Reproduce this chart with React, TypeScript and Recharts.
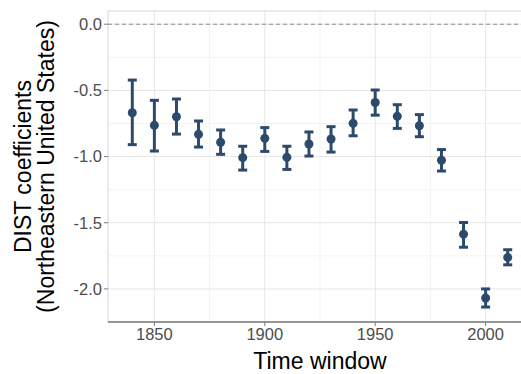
import {
  CartesianGrid,
  ErrorBar,
  Label,
  ReferenceArea,
  ReferenceLine,
  Scatter,
  ScatterChart,
  XAxis,
  YAxis,
} from "recharts";

const years = [1840, 1850, 1860, 1870, 1880, 1890, 1900, 1910, 1920, 1930, 1940, 1950, 1960, 1970, 1980, 1990, 2000, 2010];
const coef = [-0.669, -0.764, -0.699, -0.832, -0.892, -1.008, -0.862, -1.006, -0.905, -0.867, -0.749, -0.591, -0.696, -0.767, -1.028, -1.586, -2.069, -1.762];
const lower = [-0.91, -0.958, -0.83, -0.928, -0.983, -1.102, -0.961, -1.097, -0.996, -0.966, -0.843, -0.687, -0.787, -0.85, -1.109, -1.685, -2.137, -1.818];
const upper = [-0.422, -0.575, -0.565, -0.731, -0.799, -0.922, -0.781, -0.922, -0.814, -0.774, -0.648, -0.497, -0.608, -0.683, -0.947, -1.498, -2.0, -1.704];

const xTicks = [1850, 1900, 1950, 2000];
const xMinor = [1875, 1925, 1975];
const yTicks = [0, -0.5, -1.0, -1.5, -2.0];
const yMinor = [-0.25, -0.75, -1.25, -1.75];

const X_DOMAIN: [number, number] = [1829, 2021];
const Y_DOMAIN: [number, number] = [-2.25, 0.1];
const COLOR = "#2c4a6b";
const FONT = "'Liberation Sans', Arial, sans-serif";

const rows = years.map((year, i) => ({
  year,
  coef: coef[i],
  err: [coef[i] - lower[i], upper[i] - coef[i]],
}));

function Dot(props: any) {
  const { cx, cy } = props;
  return <circle cx={cx} cy={cy} r={4.5} fill={COLOR} />;
}

function YTitle(props: any) {
  const { viewBox } = props;
  const cy = viewBox.y + viewBox.height / 2;
  const lines = ["DIST coefficients", "(Northeastern United States)"];
  return (
    <g>
      {lines.map((line, i) => {
        const x = 31 + i * 22.5;
        return (
          <text
            key={line}
            x={x}
            y={cy}
            transform={`rotate(-90, ${x}, ${cy})`}
            textAnchor="middle"
            fill="#000"
            fontSize={23}
            fontFamily={FONT}
          >
            {line}
          </text>
        );
      })}
    </g>
  );
}

function XTitle(props: any) {
  const { viewBox } = props;
  return (
    <text
      x={viewBox.x + viewBox.width / 2}
      y={viewBox.y + viewBox.height - 5}
      textAnchor="middle"
      fill="#000"
      fontSize={23}
      fontFamily={FONT}
    >
      Time window
    </text>
  );
}

export default function App() {
  return (
    <div
      style={{
        position: "absolute",
        left: 0,
        top: 0,
        width: 521,
        height: 374,
        overflow: "hidden",
        background: "#fff",
      }}
    >
      <ScatterChart width={540} height={374} margin={{ top: 11, right: 8, bottom: 0, left: 0 }}>
        <CartesianGrid
          stroke="#f3f3f3"
          strokeWidth={1}
          horizontalValues={yMinor}
          verticalValues={xMinor}
        />
        <CartesianGrid
          stroke="#e6e6e6"
          strokeWidth={1}
          horizontalValues={yTicks}
          verticalValues={xTicks}
        />
        <ReferenceArea
          x1={X_DOMAIN[0]}
          x2={X_DOMAIN[1]}
          y1={Y_DOMAIN[0]}
          y2={Y_DOMAIN[1]}
          fill="none"
          stroke="#d6d6d6"
          strokeWidth={1}
          ifOverflow="visible"
        />
        <XAxis
          dataKey="year"
          type="number"
          domain={X_DOMAIN}
          ticks={xTicks}
          allowDataOverflow
          height={52}
          axisLine={{ stroke: "#7a7a7a", strokeWidth: 1.5 }}
          tickLine={{ stroke: "#7a7a7a" }}
          tickSize={4}
          tickMargin={2}
          tick={{ fill: "#4d4d4d", fontSize: 16.5, fontFamily: FONT }}
        >
          <Label content={<XTitle />} />
        </XAxis>
        <YAxis
          dataKey="coef"
          type="number"
          domain={Y_DOMAIN}
          ticks={yTicks}
          allowDataOverflow
          width={108}
          axisLine={false}
          tickLine={{ stroke: "#7a7a7a" }}
          tickSize={4}
          tickMargin={2}
          tickFormatter={(v: number) => v.toFixed(1)}
          tick={{ fill: "#4d4d4d", fontSize: 16.5, fontFamily: FONT }}
        >
          <Label content={<YTitle />} />
        </YAxis>
        <ReferenceLine y={0} stroke="#8c8c8c" strokeDasharray="4 3" strokeWidth={1} />
        <Scatter data={rows} fill={COLOR} shape={<Dot />} isAnimationActive={false}>
          <ErrorBar
            dataKey="err"
            direction="y"
            width={4.5}
            stroke={COLOR}
            strokeWidth={3}
            isAnimationActive={false}
          />
        </Scatter>
      </ScatterChart>
    </div>
  );
}
